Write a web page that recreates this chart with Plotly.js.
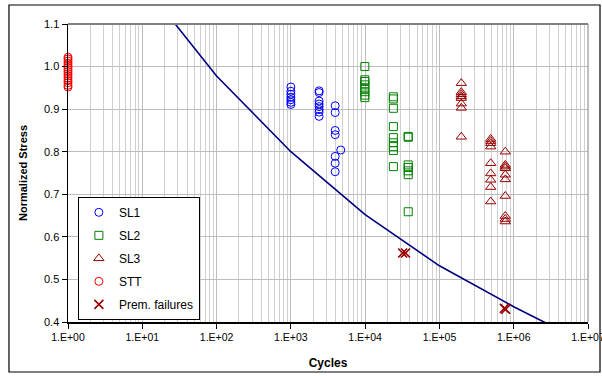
<!DOCTYPE html>
<html>
<head>
<meta charset="utf-8">
<script src="https://cdn.plot.ly/plotly-3.0.1.min.js"></script>
<style>html,body{margin:0;padding:0;background:#fff;}#chart{width:602px;height:376px;}</style>
</head>
<body>
<div id="chart"></div>
<script>
// ---- Data ----
const stt_N = [1,1,1,1,1,1,1,1,1,1,1,1,1,1,1];
const stt_S = [1.022,1.018,1.013,1.008,1.003,0.998,0.993,0.988,0.983,0.978,0.973,0.967,0.962,0.956,0.952];

const sl1_N = [1000,1000,1000,1000,1000,1000,1000,
               2400,2400,2400,2400,2400,2400,2400,2400,
               3950,3950,3950,3950,3950,3950,3950,4700];
const sl1_S = [0.952,0.942,0.935,0.928,0.922,0.916,0.911,
               0.943,0.939,0.919,0.912,0.906,0.899,0.893,0.883,
               0.908,0.892,0.850,0.840,0.789,0.773,0.753,0.804];

const sl2_N = [9900,9900,9900,9900,9900,9900,9900,9900,
               24000,24000,24000,24000,24000,24000,24000,24000,24000,
               38000,38000,38000,38000,38000,38000,38000];
const sl2_S = [1.000,0.969,0.965,0.957,0.949,0.941,0.933,0.927,
               0.929,0.924,0.902,0.859,0.833,0.821,0.812,0.803,0.765,
               0.836,0.834,0.769,0.763,0.755,0.746,0.659];

const sl3_N = [197000,197000,197000,197000,197000,197000,197000,197000,
               490000,490000,490000,490000,490000,490000,490000,490000,490000,
               770000,770000,770000,770000,770000,770000,770000,770000,770000,770000];
const sl3_S = [0.961,0.940,0.935,0.930,0.926,0.913,0.903,0.835,
               0.830,0.825,0.820,0.812,0.773,0.749,0.734,0.717,0.683,
               0.800,0.769,0.765,0.761,0.746,0.735,0.696,0.649,0.642,0.636];

const prem_N = [32000,35000,750000,780000];
const prem_S = [0.562,0.562,0.432,0.430];

const curve_N = [10,100,1000,10000,100000,1000000,3400000];
const curve_S = [1.197,0.978,0.800,0.652,0.532,0.436,0.389];

const xTickVals = [1,10,100,1000,10000,100000,1000000,10000000];
const xTickText = ["1.E+00","1.E+01","1.E+02","1.E+03","1.E+04","1.E+05","1.E+06","1.E+07"];
const yTickVals = [0.4,0.5,0.6,0.7,0.8,0.9,1.0,1.1];
const yTickText = ["0.4","0.5","0.6","0.7","0.8","0.9","1.0","1.1"];

const traces = [
  {x: curve_N, y: curve_S, type:'scatter', mode:'lines', line:{color:'#000080', width:1.6}, showlegend:false, hoverinfo:'skip'},
  {x: sl1_N, y: sl1_S, type:'scatter', mode:'markers', name:'SL1', legendgroup:'a',
   marker:{symbol:'circle-open', size:8, color:'#0000ff', line:{width:1, color:'#0000ff'}}, cliponaxis:false},
  {x: sl2_N, y: sl2_S, type:'scatter', mode:'markers', name:'SL2', legendgroup:'b',
   marker:{symbol:'square-open', size:8, color:'#008000', line:{width:1, color:'#008000'}}, cliponaxis:false},
  {x: sl3_N, y: sl3_S, type:'scatter', mode:'markers', name:'SL3', legendgroup:'c',
   marker:{symbol:'triangle-up-open', size:9, color:'#990000', line:{width:1, color:'#990000'}}, cliponaxis:false},
  {x: stt_N, y: stt_S, type:'scatter', mode:'markers', name:'STT', legendgroup:'d',
   marker:{symbol:'circle-open', size:8, color:'#ff0000', line:{width:1, color:'#ff0000'}}, cliponaxis:false},
  {x: prem_N, y: prem_S, type:'scatter', mode:'markers', name:'Prem. failures', legendgroup:'e',
   marker:{symbol:'x-thin-open', size:9, color:'#990000', line:{width:1.6, color:'#990000'}}, cliponaxis:false}
];

const layout = {
  width:602, height:376,
  margin:{l:68, r:14, t:24, b:54},
  paper_bgcolor:'#ffffff', plot_bgcolor:'#ffffff',
  font:{family:'Arial, Liberation Sans, sans-serif', size:11, color:'#000'},
  xaxis:{
    type:'log', range:[0,7],
    tickmode:'array', tickvals:xTickVals, ticktext:xTickText,
    ticks:'outside', ticklen:5, tickcolor:'#000',
    ticklabeloverflow:'allow',
    showline:true, linecolor:'#000', linewidth:1.5,
    showgrid:true, gridcolor:'#bdbdbd', gridwidth:1,
    minor:{dtick:'D1', showgrid:true, gridcolor:'#cfcfcf', gridwidth:1, ticks:''},
    zeroline:false,
    tickfont:{size:10.5},
    title:{text:'<b>Cycles</b>', font:{size:12}, standoff:16}
  },
  yaxis:{
    range:[0.4,1.1],
    tickmode:'array', tickvals:yTickVals, ticktext:yTickText,
    ticks:'outside', ticklen:5, tickcolor:'#000',
    showline:true, linecolor:'#000', linewidth:1.5,
    showgrid:true, gridcolor:'#bdbdbd', gridwidth:1,
    zeroline:false,
    tickfont:{size:11},
    title:{text:'<b>Normalized Stress</b>', font:{size:11}, standoff:14}
  },
  legend:{
    x:0.019, y:0.42, xanchor:'left', yanchor:'top',
    bgcolor:'#ffffff', bordercolor:'#000', borderwidth:1,
    font:{size:12, color:'#000'},
    traceorder:'grouped', tracegroupgap:4
  },
  shapes:[
    {type:'line', xref:'paper', yref:'paper', x0:0, x1:1, y0:1, y1:1, line:{color:'#808080', width:2}},
    {type:'line', xref:'paper', yref:'paper', x0:1, x1:1, y0:0, y1:1, line:{color:'#808080', width:1}},
    {type:'rect', xref:'paper', yref:'paper', x0:-0.1135, x1:1.0231, y0:-0.1678, y1:1.0638, line:{color:'#000', width:1.2}, fillcolor:'rgba(0,0,0,0)'}
  ],
  showlegend:true
};

Plotly.newPlot('chart', traces, layout, {displayModeBar:false, staticPlot:true});
</script>
</body>
</html>
